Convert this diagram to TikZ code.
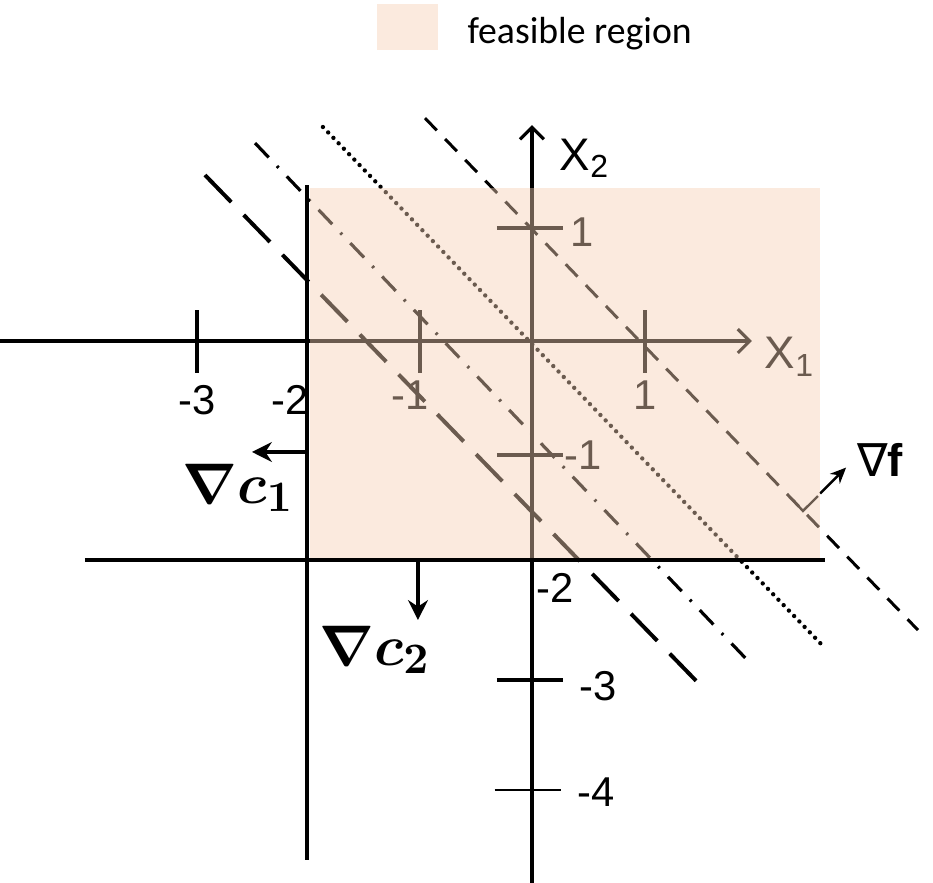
\documentclass[tikz,border=0pt]{standalone}
\usepackage{amsmath}
\usepackage{fontspec}
\setmainfont{Liberation Sans}
\newfontfamily\legendfont{Carlito}
\newfontfamily\nablafont{DejaVu Sans}
\usetikzlibrary{arrows.meta}
\definecolor{feasorange}{HTML}{F5D0B5}

\begin{document}
\begin{tikzpicture}[line width=0.8pt, font=\fontsize{10.5}{12}\selectfont,
    ticklabel/.style={inner sep=0pt},
    axislabel/.style={inner sep=0pt, font=\fontsize{11.5}{13}\selectfont},
    gradlabel/.style={inner sep=0pt, font=\fontsize{15}{17}\selectfont}]
    \useasboundingbox (-4.708,-4.796) rectangle (3.549,3.018);

    % --- LEGENDE ---
    \fill[feasorange, fill opacity=0.44] (-1.372,2.575) rectangle (-0.832,2.982);
    \node[anchor=west, inner sep=0pt, font=\legendfont\fontsize{9.5}{11}\selectfont] (legend) at (-0.584,2.72) {feasible region};

    % --- ACHSEN ---
    \draw[-{Straight Barb[length=3pt,width=6pt]}] (-4.708,0) -- (1.947,0);
    \draw[-{Straight Barb[length=3pt,width=6pt]}] (0,-4.796) -- (0,1.91);
    \node[axislabel] (xone) at (2.283,-0.14) {X\textsubscript{1}};
    \node[axislabel] (xtwo) at (0.469,1.62) {X\textsubscript{2}};

    % Striche auf den Achsen (hartcodiert)
    \foreach \x in {-2.965,-0.991,1.0}
        \draw[line width=0.9pt] (\x,0.274) -- (\x,-0.28);
    \foreach \y in {1.0,-1.009,-3.0}
        \draw[line width=0.9pt] (-0.31,\y) -- (0.274,\y);
    \draw[line width=0.5pt] (-0.33,-3.973) -- (0.26,-3.973);

    \node[ticklabel] (xm3) at (-2.965,-0.522) {-3};
    \node[ticklabel] (xm2) at (-2.142,-0.522) {-2};
    \node[ticklabel] (xm1) at (-1.08,-0.478) {-1};
    \node[ticklabel] (xp1) at (1.0,-0.478) {1};
    \node[ticklabel] (yp1) at (0.442,0.965) {1};
    \node[ticklabel] (ym1) at (0.451,-1.009) {-1};
    \node[ticklabel] (ym2) at (0.204,-2.186) {-2};
    \node[ticklabel] (ym3) at (0.584,-3.053) {-3};
    \node[ticklabel] (ym4) at (0.566,-3.99) {-4};

    % --- NEBENBEDINGUNGEN ---
    \draw[line width=1pt] (-1.99,1.38) -- (-1.99,-4.593);
    \draw[line width=1pt] (-3.956,-1.938) -- (2.593,-1.938);

    \coordinate (cone) at (-1.99,-0.982);
    \coordinate (conetip) at (-2.478,-0.982);
    \draw[-{Stealth[length=5pt,width=5pt]}] (cone) -- (conetip);
    \node[gradlabel] (gradcone) at (-2.6,-1.301) {$\boldsymbol{\nabla c_1}$};

    \coordinate (ctwo) at (-1.009,-1.938);
    \coordinate (ctwotip) at (-1.009,-2.469);
    \draw[-{Stealth[length=5pt,width=5pt]}] (ctwo) -- (ctwotip);
    \node[gradlabel] (gradctwo) at (-1.39,-2.735) {$\boldsymbol{\nabla c_2}$};

    % --- HOEHENLINIEN VON f ---
    \draw[line width=0.75pt, dash pattern=on 4.3pt off 3pt] (-0.947,1.973) -- (3.416,-2.558);
    \draw[line width=1.1pt, line cap=round, dash pattern=on 0pt off 1.9pt] (-1.85,1.894) -- (2.593,-2.717);
    \draw[line width=0.8pt, dash pattern=on 5pt off 3pt on 0.6pt off 3pt] (-2.451,1.752) -- (1.947,-2.867);
    \draw[line width=1pt, dash pattern=on 9.5pt off 4.5pt] (-2.894,1.469) -- (1.531,-3.088);

    % Gradient von f mit rechtem Winkel
    \draw[line width=0.6pt] (2.31,-1.407) -- (2.398,-1.504) -- (2.531,-1.372);
    \coordinate (fgrad) at (2.55,-1.35);
    \coordinate (fgradtip) at (2.78,-1.12);
    \draw[line width=0.6pt, -{Stealth[length=4pt,width=3.5pt]}] (fgrad) -- (fgradtip);
    \node[inner sep=0pt, font=\fontsize{11.5}{13}\selectfont] (gradf) at (3.08,-1.053) {{\nablafont ∇}\textbf{f}};

    % --- ZULAESSIGER BEREICH (halbtransparent darueber) ---
    \fill[feasorange, fill opacity=0.44] (-1.965,-1.92) rectangle (2.549,1.354);

\end{tikzpicture}
\end{document}
